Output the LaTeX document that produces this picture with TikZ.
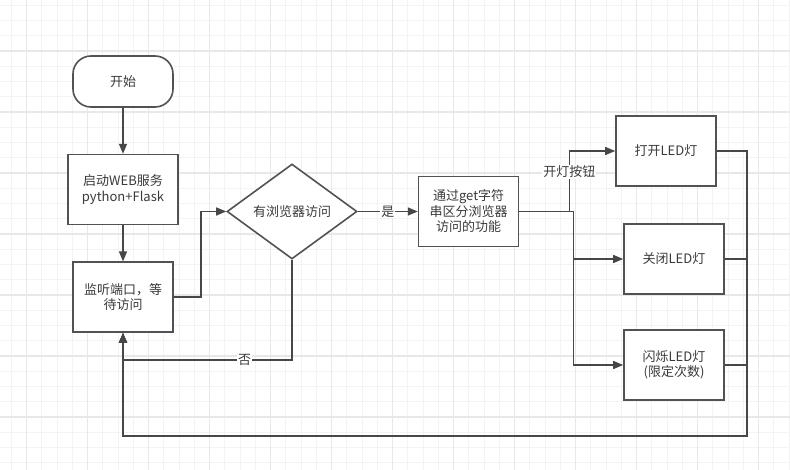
\documentclass[tikz,border=0pt]{standalone}
\usepackage{fontspec}
\setmainfont{Noto Sans CJK SC}
\usetikzlibrary{positioning,shapes.geometric,arrows.meta}

\definecolor{linegray}{HTML}{474747}
\definecolor{boxgray}{HTML}{4F5358}
\definecolor{textgray}{HTML}{3A3A3A}
\definecolor{gridminor}{HTML}{F3F3F3}
\definecolor{gridmajor}{HTML}{E8E8E8}

\tikzset{
  box/.style={draw=boxgray, line width=1.6pt, fill=white, minimum width=100pt,
    minimum height=70pt, align=center, text=textgray, inner sep=2pt,
    font=\fontsize{13}{15.5}\selectfont},
  startbox/.style={box, rounded corners=18pt, minimum height=51pt},
  decision/.style={box, diamond, minimum width=130pt, minimum height=95pt, inner sep=0pt},
  arr/.style={draw=linegray, line width=1.4pt, -{Triangle[length=10pt,width=8pt]}},
  lbl/.style={fill=white, text=textgray, inner sep=1pt, font=\fontsize{13}{15}\selectfont},
}

\begin{document}
\begin{tikzpicture}[x=1pt,y=-1pt]
  \useasboundingbox (0,0) rectangle (790,470);
  \fill[white] (0,0) rectangle (790,470);
  % background grid
  \foreach \i in {0,...,51}
    \draw[gridminor, line width=1pt] ({11.25+15.25*\i},0) -- ({11.25+15.25*\i},470);
  \foreach \i in {0,...,30}
    \draw[gridminor, line width=1pt] (0,{5.25+15.25*\i}) -- (790,{5.25+15.25*\i});
  \foreach \i in {0,...,12}
    \draw[gridmajor, line width=1.3pt] ({26.5+61*\i},0) -- ({26.5+61*\i},470);
  \foreach \i in {0,...,7}
    \draw[gridmajor, line width=1.3pt] (0,{51+61*\i}) -- (790,{51+61*\i});

  \node[startbox] (start) at (123,81.5) {开始};
  \node[box, below=46pt of start, minimum width=110pt] (web) {启动WEB服务\\python+Flask};
  \node[box, below=36pt of web] (listen) {监听端口，等\\待访问};
  \node[decision] (visit) at (292,211.5) {有浏览器访问};
  \node[box, right=60pt of visit] (parse) {通过get字符\\串区分浏览器\\访问的功能};
  \node[box] (ledon) at (666,151) {打开LED灯};
  \node[box] (ledoff) at (674,259) {关闭LED灯};
  \node[box] (ledblink) at (674,365) {闪烁LED灯\\(限定次数)};

  \coordinate (nopt) at (123,360);
  \coordinate (back) at (123,436);

  \draw[arr] (start) -- (web);
  \draw[arr] (web) -- (listen);
  \draw[arr] (listen.east) -- ++(27,0) |- (visit.west);
  \draw[arr] (visit.east) -- node[lbl] {是} (parse.west);
  \draw[arr] (visit.south) |- node[pos=0.64,lbl] {否} (nopt) -- (listen.south);

  %parse>leds
  \draw[arr] (parse.east) -- ++(50,0) |- node[pos=0.33,lbl] {开灯按钮} (ledon.west);
  \draw[arr] (parse.east) -- ++(54,0) |- (ledoff.west);
  \draw[arr] (parse.east) -- ++(54,0) |- (ledblink.west);

  %leds>listen
  \draw[arr] (ledon.east) -- ++(30,0) |- (back) -- (listen.south);
  \draw[arr] (ledoff.east) -- ++(22,0) |- (back) -- (listen.south);
  \draw[arr, line width=2.6pt] (ledblink.east) -- ++(22,0) |- (back) -- (listen.south);
\end{tikzpicture}
\end{document}
